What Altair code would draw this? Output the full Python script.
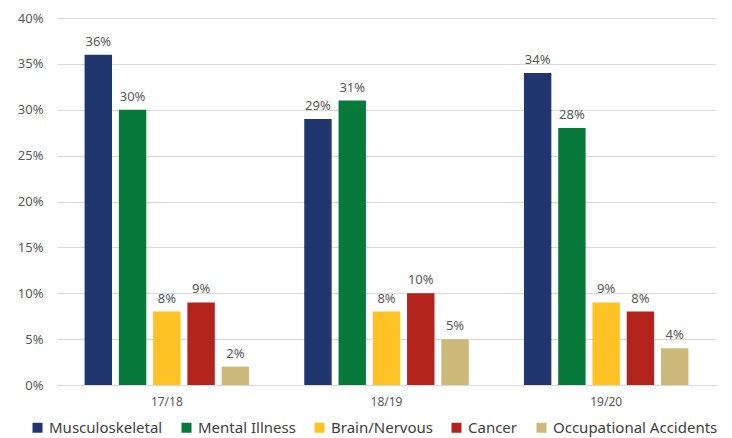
import altair as alt
import pandas as pd

years = ["17/18", "18/19", "19/20"]
categories = ["Musculoskeletal", "Mental Illness", "Brain/Nervous", "Cancer", "Occupational Accidents"]
values = {
    "17/18": [36, 30, 8, 9, 2],
    "18/19": [29, 31, 8, 10, 5],
    "19/20": [34, 28, 9, 8, 4],
}
colors = ["#21356E", "#077A3B", "#FFC225", "#B2231B", "#CCB878"]

rows = []
for y in years:
    for i, c in enumerate(categories):
        rows.append({"year": y, "cat": c, "order": i, "v": values[y][i] / 100,
                     "label": f"{values[y][i]}%"})
df = pd.DataFrame(rows)

FONT = "Noto Sans"
x = alt.X("year:N", sort=years, title=None,
          scale=alt.Scale(paddingInner=0.22, paddingOuter=0.11),
          axis=alt.Axis(labelAngle=0, ticks=False, domainColor="#D9D9D9", labelColor="#595959",
                        labelFont=FONT, labelFontSize=12, labelPadding=11))
xo = alt.XOffset("cat:N", sort=categories, scale=alt.Scale(paddingInner=0.2, paddingOuter=0.1))
y = alt.Y("v:Q", title=None,
          scale=alt.Scale(domain=[0, 0.4], nice=False),
          axis=alt.Axis(format=".0%", values=[i * 0.05 for i in range(9)], ticks=False, domain=False,
                        gridColor="#D9D9D9", labelColor="#595959", labelFont=FONT, labelFontSize=13,
                        labelPadding=14))

bars = alt.Chart(df).mark_bar().encode(
    x=x, xOffset=xo, y=y,
    color=alt.Color("cat:N", sort=categories, title=None,
                    scale=alt.Scale(domain=categories, range=colors),
                    legend=alt.Legend(orient="none", direction="horizontal", legendX=-27, legendY=402,
                                      symbolType="square", symbolSize=100, symbolStrokeWidth=0,
                                      labelFont=FONT, labelFontSize=15, labelColor="#404040",
                                      labelOffset=4, columnPadding=16, labelLimit=300)),
)
text = alt.Chart(df).mark_text(dy=-13, font=FONT, fontSize=13, color="#595959").encode(
    x=x, xOffset=xo, y=y, text="label:N")

chart = (bars + text).properties(
    width=659, height=367,
    autosize=alt.AutoSizeParams(type="none"),
    padding={"left": 57, "top": 18, "right": 16, "bottom": 53},
).configure_view(stroke=None)

chart.save("out.html", embed_options={"renderer": "svg", "actions": False})
